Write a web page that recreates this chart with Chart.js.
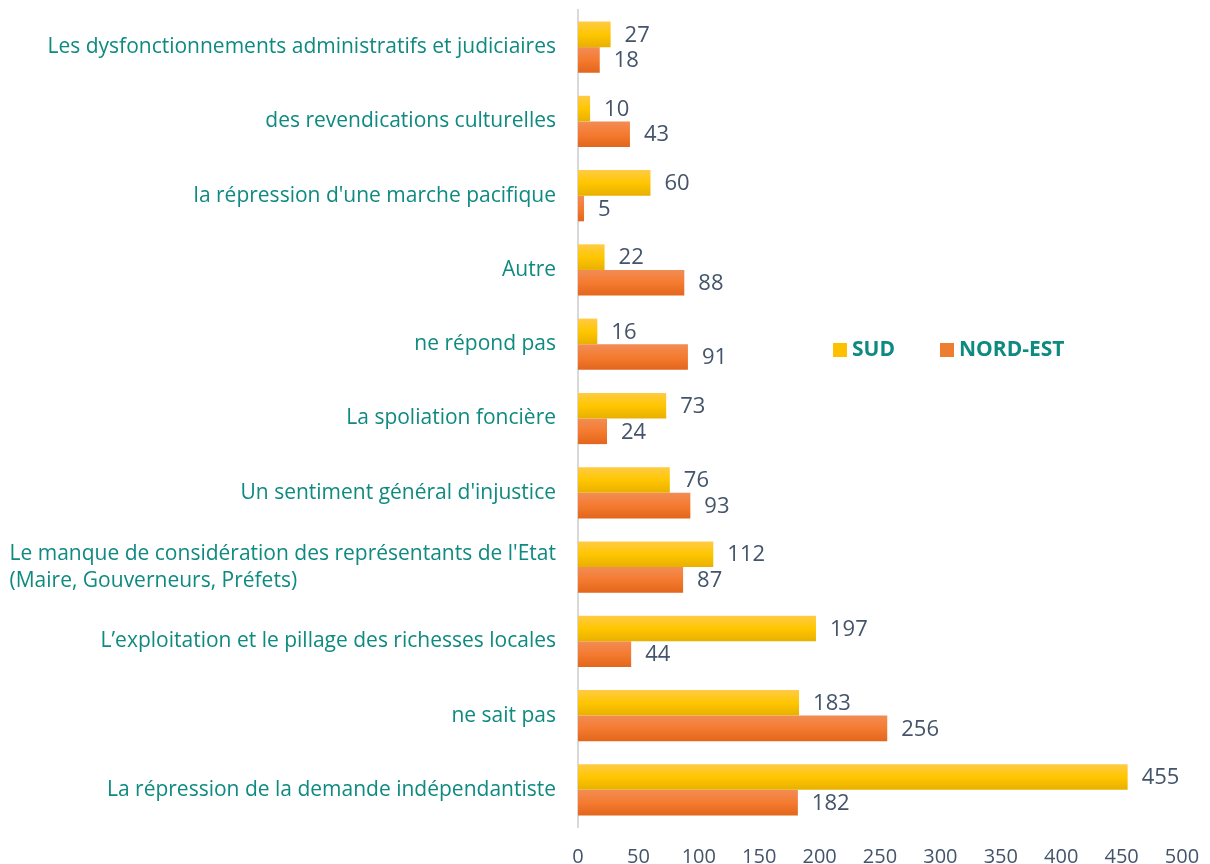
<!DOCTYPE html>
<html>
<head>
<meta charset="utf-8">
<script src="https://cdn.jsdelivr.net/npm/chart.js@4"></script>
<style>
  body { margin: 0; background: #fff; }
  #wrap { position: relative; width: 1210px; height: 864px; }
  #legend { position: absolute; left: 833px; top: 334px; font-family: "Open Sans", sans-serif; font-weight: bold; font-size: 21px; color: #0e8a80; white-space: nowrap; }
  #legend span.item { margin-right: 45px; }
  #legend i { display: inline-block; width: 14px; height: 14px; margin-right: 5px; vertical-align: -1px; }
</style>
</head>
<body>
<div id="wrap">
  <canvas id="barChart" width="1210" height="864"></canvas>
  <div id="legend"></div>
</div>
<script>
const categories = [
  "Les dysfonctionnements administratifs et judiciaires",
  "des revendications culturelles",
  "la répression d'une marche pacifique",
  "Autre",
  "ne répond pas",
  "La spoliation foncière",
  "Un sentiment général d'injustice",
  ["Le manque de considération des représentants de l'Etat", "(Maire, Gouverneurs, Préfets)"],
  "L’exploitation et le pillage des richesses locales",
  "ne sait pas",
  "La répression de la demande indépendantiste"
];
const sudValues = [27, 10, 60, 22, 16, 73, 76, 112, 197, 183, 455];
const nordEstValues = [18, 43, 5, 88, 91, 24, 93, 87, 44, 256, 182];
const xTicks = [0, 50, 100, 150, 200, 250, 300, 350, 400, 450, 500];

const catPct = 0.69;
const labelFont = "21px 'Open Sans', sans-serif";
const labelColor = "#0e8a80";

// vertical gradient per bar, computed from the category scale
function barGradient(top, mid, bottom) {
  return function (context) {
    const chart = context.chart;
    const yScale = chart.scales.y;
    if (!yScale || context.dataIndex === undefined) return mid;
    const center = yScale.getPixelForValue(context.dataIndex);
    const step = yScale.height / categories.length;
    if (!isFinite(center) || !isFinite(step) || step <= 0) return mid;
    const h = step * catPct / 2;
    const y0 = context.datasetIndex === 0 ? center - h : center;
    const g = chart.ctx.createLinearGradient(0, y0, 0, y0 + h);
    g.addColorStop(0, top);
    g.addColorStop(0.5, mid);
    g.addColorStop(1, bottom);
    return g;
  };
}

const valueLabels = {
  id: "valueLabels",
  afterDatasetsDraw(chart) {
    const c = chart.ctx;
    c.save();
    c.font = "22px 'Open Sans', sans-serif";
    c.fillStyle = "#44546a";
    c.textBaseline = "middle";
    c.textAlign = "left";
    chart.data.datasets.forEach(function (ds, di) {
      const meta = chart.getDatasetMeta(di);
      meta.data.forEach(function (bar, i) {
        c.fillText(ds.data[i], bar.x + 14, bar.y + 1);
      });
    });
    c.restore();
  }
};

// multi-line category labels are left aligned as a block, right against the axis
const blockLabels = {
  id: "blockLabels",
  afterDraw(chart) {
    const scale = chart.scales.y;
    const c = chart.ctx;
    c.save();
    c.font = labelFont;
    c.fillStyle = labelColor;
    c.textBaseline = "middle";
    c.textAlign = "left";
    categories.forEach(function (lab, i) {
      if (!Array.isArray(lab)) return;
      const widths = lab.map(function (t) { return c.measureText(t).width; });
      const x = scale.right - 22 - Math.max.apply(null, widths);
      const lh = 27;
      const y = scale.getPixelForValue(i) - (lab.length - 1) * lh / 2;
      lab.forEach(function (t, k) { c.fillText(t, x, y + k * lh); });
    });
    c.restore();
  }
};

const chart = new Chart(document.querySelector("#barChart").getContext("2d"), {
  type: "bar",
  data: {
    labels: categories,
    datasets: [
      {
        label: "SUD",
        data: sudValues,
        backgroundColor: barGradient("#ffcb45", "#ffc600", "#e8b000"),
        legendColor: "#ffc000",
        borderWidth: 0,
        categoryPercentage: catPct,
        barPercentage: 1,
      },
      {
        label: "NORD-EST",
        data: nordEstValues,
        backgroundColor: barGradient("#f28c55", "#f47b30", "#e2661b"),
        legendColor: "#ed7d31",
        borderWidth: 0,
        categoryPercentage: catPct,
        barPercentage: 1,
      },
    ],
  },
  options: {
    indexAxis: "y",
    responsive: false,
    animation: false,
    layout: { padding: { top: 10, right: 28, bottom: 0, left: 0 } },
    plugins: {
      legend: { display: false },
      tooltip: { enabled: false },
    },
    scales: {
      x: {
        min: 0,
        max: 500,
        afterBuildTicks(scale) {
          scale.ticks = xTicks.map(function (v) { return { value: v }; });
        },
        afterFit(scale) {
          scale.height = 37;
          scale.paddingLeft = 0;
          scale.paddingRight = 0;
        },
        grid: { display: false, drawTicks: false },
        border: { display: false },
        ticks: {
          color: "#44546a",
          padding: 18,
          font: { family: "'Open Sans', sans-serif", size: 20 },
        },
      },
      y: {
        afterFit(scale) {
          scale.width = 578;
          scale.paddingTop = 0;
          scale.paddingBottom = 0;
        },
        grid: { display: false, drawTicks: false },
        border: { display: true, color: "#d9d9d9", width: 2 },
        ticks: {
          color: function (ctx) {
            return Array.isArray(categories[ctx.index]) ? "rgba(0,0,0,0)" : labelColor;
          },
          padding: 22,
          font: { family: "'Open Sans', sans-serif", size: 21 },
        },
      },
    },
  },
  plugins: [valueLabels, blockLabels],
});
chart.update();

const legend = document.querySelector("#legend");
chart.data.datasets.forEach(function (ds) {
  const item = document.createElement("span");
  item.className = "item";
  const box = document.createElement("i");
  box.style.background = ds.legendColor;
  item.appendChild(box);
  item.appendChild(document.createTextNode(ds.label));
  legend.appendChild(item);
});
</script>
</body>
</html>
